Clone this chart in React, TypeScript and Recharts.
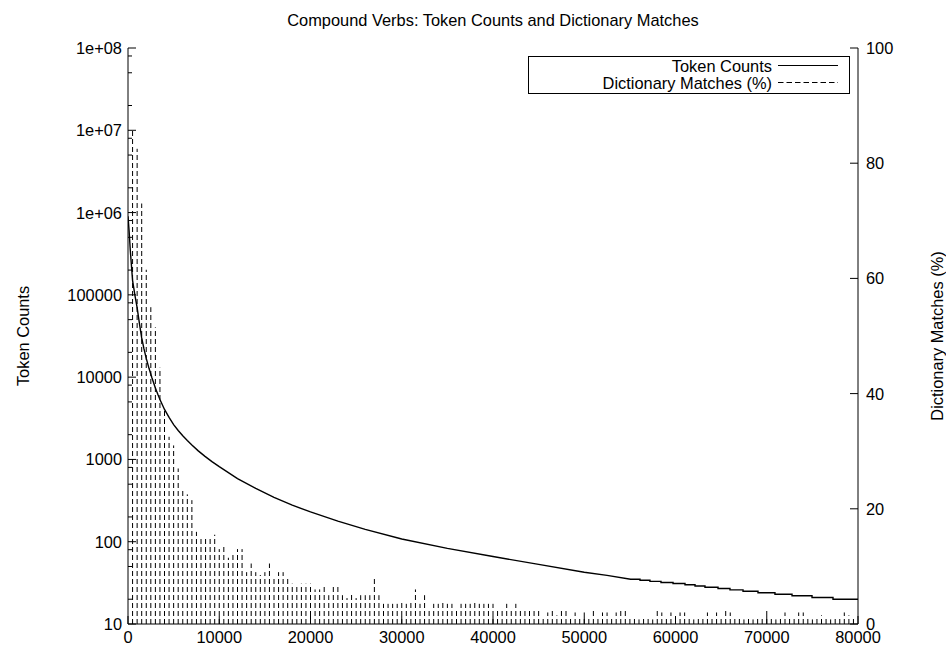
import React from "react";
import { ComposedChart, Line, XAxis, YAxis } from "recharts";

const FONT = "'Liberation Sans', Arial, Helvetica, sans-serif";
const FS = 16.4;

// x axis
const xTicks = [0, 10000, 20000, 30000, 40000, 50000, 60000, 70000, 80000];

// left axis (log)
const countTicks = [10, 100, 1000, 10000, 100000, 1000000, 10000000, 100000000];
const countTickLabels = ["10", "100", "1000", "10000", "100000", "1e+06", "1e+07", "1e+08"];
const countMinorTicks = [
  20, 50, 80, 200, 500, 800, 2000, 5000, 8000, 20000, 50000, 80000,
  200000, 500000, 800000, 2000000, 5000000, 8000000, 20000000, 50000000, 80000000,
];

// right axis
const pctTicks = [0, 20, 40, 60, 80, 100];

// token counts by rank (smooth head)
const rankX = [
  0, 120, 250, 500, 750, 1000, 1250, 1500, 1750, 2000, 2300, 2630, 3000, 3300, 3500,
  4000, 4500, 5000, 5500, 6000, 6500, 7000, 7700, 8440, 9200, 10000, 12000, 14000,
  16000, 18000, 20000, 23000, 26000, 30000, 35000, 40000, 45000, 50000, 52500,
];
const tokenCount = [
  900000, 600000, 350000, 150000, 100000, 70000, 45000, 30000, 22000, 16900, 12800,
  9760, 7400, 6060, 5360, 4050, 3240, 2650, 2250, 1940, 1700, 1500, 1270, 1090, 940,
  816, 585, 444, 346, 278, 230, 178, 141, 108, 83, 66, 53, 42.5, 39,
];
// integer-count tail: each count holds from its start rank to the next start rank
const tailCount = [35, 34, 33, 32, 31, 30, 29, 28, 27, 26, 25, 24, 23, 22, 21, 20];
const tailStart = [
  55080, 56110, 57200, 58410, 59730, 61040, 62140, 63230, 64660, 65970, 67400,
  69040, 70900, 72770, 74960, 77260,
];
const tailEnd = 80000;

const tokenData = [
  ...rankX.map((x, i) => ({ x, count: tokenCount[i] })),
  ...tailCount.flatMap((c, i) => [
    { x: tailStart[i], count: c },
    { x: i + 1 < tailStart.length ? tailStart[i + 1] : tailEnd, count: c },
  ]),
];

// dictionary matches (%) per 500-rank bin, bins at 500, 1000, ... 79500
const binWidth = 500;
const matchPct = [
  86, 82.5, 73, 61.5, 55, 51.5, 44.5, 37, 32.5, 31,
  27, 23.5, 22.5, 21.5, 16, 15, 15, 15, 15.5, 13,
  13.5, 11.5, 12, 13, 13, 9, 10.5, 9, 8.5, 9,
  10.5, 8, 9, 9, 8, 7, 6.5, 7, 7, 7,
  6, 6, 6.5, 5, 6.5, 6.5, 5, 4.5, 5.5, 4.5,
  5, 5, 5, 8, 5, 3.5, 3.5, 3.5, 3.5, 4,
  3.5, 4, 6, 3.5, 5, 2.5, 3.5, 3.5, 4, 3.5,
  3.5, 2.5, 3.5, 3.5, 3.5, 4, 3.5, 3.5, 3.5, 3.5,
  2.5, 2.5, 3.5, 2.5, 3.5, 2.5, 2.5, 2.5, 2.5, 2.5,
  1, 2, 2.5, 1.5, 2.5, 2.5, 1, 2, 1, 2,
  1, 2.5, 1, 2, 2, 1, 2, 2.5, 2.5, 1,
  1, 0.8, 1, 1, 0.8, 2.5, 2, 1, 2, 1,
  2, 2, 1, 0.8, 1, 1, 2, 1, 2, 1,
  2.5, 2, 1, 1, 0.8, 1, 0.8, 1, 1, 2.5,
  1, 0.8, 1, 2, 1, 1, 2, 2, 1, 0.8,
  1, 1.5, 1, 0.8, 1, 1, 2, 1.5, 1,
];

// impulses: each bin goes 0 -> value, then a break
const impulseData = matchPct.flatMap((v, i) => {
  const x = (i + 1) * binWidth;
  return [
    { x, pct: 0 },
    { x, pct: v },
    { x, pct: null },
  ];
});

const textStyle = { fontFamily: FONT, fontSize: FS, fill: "#000" };

function LeftTick(props: any) {
  const { x, y, payload } = props;
  const idx = countTicks.indexOf(payload.value);
  const major = idx >= 0;
  return (
    <g>
      <line x1={x} x2={x + (major ? 8 : 4)} y1={y} y2={y} stroke="#000" />
      {major && (
        <text x={x - 6} y={y} textAnchor="end" dominantBaseline="central" style={textStyle}>
          {countTickLabels[idx]}
        </text>
      )}
    </g>
  );
}

function RightTick(props: any) {
  const { x, y, payload } = props;
  return (
    <g>
      <line x1={x} x2={x - 8} y1={y} y2={y} stroke="#000" />
      <text x={x + 8} y={y} textAnchor="start" dominantBaseline="central" style={textStyle}>
        {payload.value}
      </text>
    </g>
  );
}

function BottomTick(props: any) {
  const { x, y, payload } = props;
  return (
    <g>
      <line x1={x} x2={x} y1={y} y2={y - 8} stroke="#000" />
      <text x={x} y={y + 13} textAnchor="middle" dominantBaseline="central" style={textStyle}>
        {payload.value}
      </text>
    </g>
  );
}

function TopTick(props: any) {
  const { x, y } = props;
  return <line x1={x} x2={x} y1={y} y2={y + 8} stroke="#000" />;
}

export default function App() {
  return (
    <div style={{ position: "absolute", left: 0, top: 0, width: 946, height: 650, background: "#fff" }}>
      <ComposedChart
        width={946}
        height={650}
        margin={{ top: 48, right: 0, bottom: 0, left: 0 }}
      >
        <XAxis
          xAxisId="bottom"
          dataKey="x"
          type="number"
          domain={[0, 80000]}
          ticks={xTicks}
          interval={0}
          allowDataOverflow
          height={26}
          tickSize={0}
          tickMargin={0}
          tickLine={false}
          axisLine={{ stroke: "#000" }}
          tick={<BottomTick />}
        />
        <XAxis
          xAxisId="top"
          orientation="top"
          dataKey="x"
          type="number"
          domain={[0, 80000]}
          ticks={xTicks}
          interval={0}
          allowDataOverflow
          height={0}
          tickSize={0}
          tickMargin={0}
          tickLine={false}
          axisLine={{ stroke: "#000" }}
          tick={<TopTick />}
        />
        <YAxis
          yAxisId="left"
          scale="log"
          type="number"
          domain={[10, 100000000]}
          ticks={[...countTicks, ...countMinorTicks].sort((a, b) => a - b)}
          interval={0}
          allowDataOverflow
          width={128}
          tickSize={0}
          tickMargin={0}
          tickLine={false}
          axisLine={{ stroke: "#000" }}
          tick={<LeftTick />}
        />
        <YAxis
          yAxisId="right"
          orientation="right"
          type="number"
          domain={[0, 100]}
          ticks={pctTicks}
          interval={0}
          allowDataOverflow
          width={88}
          tickSize={0}
          tickMargin={0}
          tickLine={false}
          axisLine={{ stroke: "#000" }}
          tick={<RightTick />}
        />
        <Line
          data={impulseData}
          xAxisId="bottom"
          yAxisId="right"
          dataKey="pct"
          type="linear"
          stroke="#000"
          strokeWidth={1}
          strokeDasharray="5 3"
          dot={false}
          activeDot={false}
          connectNulls={false}
          isAnimationActive={false}
        />
        <Line
          data={tokenData}
          xAxisId="bottom"
          yAxisId="left"
          dataKey="count"
          type="linear"
          stroke="#000"
          strokeWidth={1.4}
          dot={false}
          activeDot={false}
          isAnimationActive={false}
        />
      </ComposedChart>
      <svg
        width={946}
        height={650}
        style={{ position: "absolute", left: 0, top: 0, pointerEvents: "none" }}
      >
        <text x={493} y={20} textAnchor="middle" dominantBaseline="central" style={textStyle}>
          Compound Verbs: Token Counts and Dictionary Matches
        </text>
        <text
          transform="translate(23,336) rotate(-90)"
          textAnchor="middle"
          dominantBaseline="central"
          style={textStyle}
        >
          Token Counts
        </text>
        <text
          transform="translate(937,336) rotate(-90)"
          textAnchor="middle"
          dominantBaseline="central"
          style={textStyle}
        >
          Dictionary Matches (%)
        </text>
        <rect x={528.5} y={56.5} width={321} height={37} fill="#fff" stroke="#000" />
        <text x={772} y={66} textAnchor="end" dominantBaseline="central" style={textStyle}>
          Token Counts
        </text>
        <line x1={778} x2={838} y1={65.5} y2={65.5} stroke="#000" />
        <text x={772} y={83} textAnchor="end" dominantBaseline="central" style={textStyle}>
          Dictionary Matches (%)
        </text>
        <line x1={778} x2={838} y1={82.5} y2={82.5} stroke="#000" strokeDasharray="5.5 3" />
      </svg>
    </div>
  );
}
